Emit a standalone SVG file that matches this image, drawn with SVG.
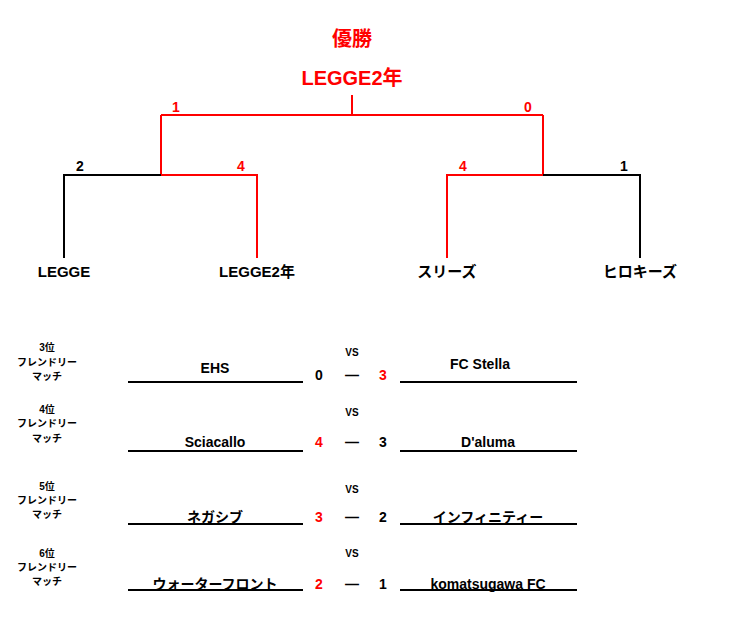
<svg xmlns="http://www.w3.org/2000/svg" width="745" height="627" viewBox="0 0 745 627">
<style>
text{font-family:"Liberation Sans","Noto Sans CJK JP",sans-serif;font-weight:bold;text-anchor:middle;fill:#000}
.r{fill:#f00}
.t{font-size:15px}
.s{font-size:14px}
.l{font-size:10px}
.k{stroke:#000;stroke-width:2;fill:none}
.rd{stroke:#f00;stroke-width:2;fill:none}
</style>
<rect width="745" height="627" fill="#fff"/>
<g id="connectors">
<path class="rd" d="M352,95V115M161,115H543M161,115V175M543,115V175M161,175H257V258M447,258V175H543"/>
<path class="k" d="M64,258V175H161M543,175H640V258"/>
<path class="k" d="M128,382H303M400,382H577M128,451H303M400,451H577M128,524H303M400,524H577M128,590H303M400,590H577"/>
</g>
<g id="champion"><text x="352" y="46" class="r" font-size="20">優勝</text><text x="352" y="85" class="r" font-size="20">LEGGE2年</text></g>
<g id="scores">
<text x="176" y="112" class="r s">1</text><text x="528" y="112" class="r s">0</text>
<text x="80" y="171" class="s">2</text><text x="241" y="171" class="r s">4</text>
<text x="463" y="171" class="r s">4</text><text x="624" y="171" class="s">1</text>
</g>
<g id="n1"><text x="64" y="277" class="t">LEGGE</text></g>
<g id="n2"><text x="257" y="277" class="t">LEGGE2年</text></g>
<g id="n3"><text x="447" y="277" class="t">スリーズ</text></g>
<g id="n4"><text x="640" y="277" class="t">ヒロキーズ</text></g>
<g id="m3"><text x="47" y="351" class="l">3位</text><text x="47" y="366" class="l">フレンドリー</text><text x="47" y="380" class="l">マッチ</text>
<text x="352" y="356" class="l" font-size="12">VS</text>
<text x="215" y="373" class="s">EHS</text><text x="319" y="380" class="s">0</text><text x="352" y="380" class="s">—</text><text x="383" y="380" class="r s">3</text><text x="480" y="369" class="s">FC Stella</text></g>
<g id="m4"><text x="47" y="413" class="l">4位</text><text x="47" y="427" class="l">フレンドリー</text><text x="47" y="442" class="l">マッチ</text>
<text x="352" y="416" class="l" font-size="12">VS</text>
<text x="215" y="447" class="s">Sciacallo</text><text x="319" y="447" class="r s">4</text><text x="352" y="447" class="s">—</text><text x="383" y="447" class="s">3</text><text x="488" y="447" class="s">D'aluma</text></g>
<g id="m5"><text x="47" y="490" class="l">5位</text><text x="47" y="504" class="l">フレンドリー</text><text x="47" y="518" class="l">マッチ</text>
<text x="352" y="493" class="l" font-size="12">VS</text>
<text x="215" y="522" class="s">ネガシブ</text><text x="319" y="522" class="r s">3</text><text x="352" y="522" class="s">—</text><text x="383" y="522" class="s">2</text><text x="488" y="522" class="s">インフィニティー</text></g>
<g id="m6"><text x="47" y="557" class="l">6位</text><text x="47" y="571" class="l">フレンドリー</text><text x="47" y="585" class="l">マッチ</text>
<text x="352" y="557" class="l" font-size="12">VS</text>
<text x="215" y="589" class="s">ウォーターフロント</text><text x="319" y="589" class="r s">2</text><text x="352" y="589" class="s">—</text><text x="383" y="589" class="s">1</text><text x="488" y="589" class="s">komatsugawa FC</text></g>
</svg>
